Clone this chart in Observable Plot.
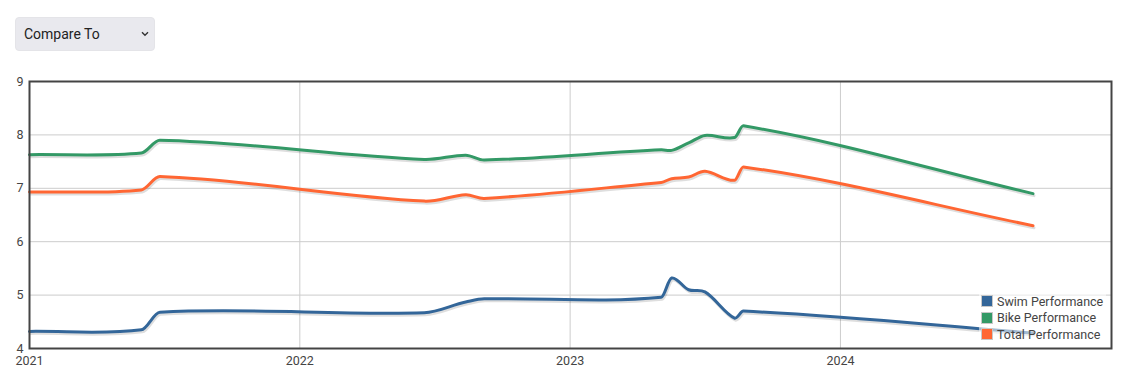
<!DOCTYPE html>
<html>
<head>
<meta charset="utf-8">
<script src="https://cdn.jsdelivr.net/npm/d3@7"></script>
<script src="https://cdn.jsdelivr.net/npm/@observablehq/plot@0.6"></script>
<style>
  body { margin: 0; background: #fff; font-family: Roboto, "Noto Sans", sans-serif; }
  #wrap { position: relative; width: 1130px; height: 377px; overflow: hidden; }
  #ctl { position: relative; height: 62px; }
  #cmp {
    position: absolute; left: 15px; top: 17px; width: 140px; height: 34px;
    -webkit-appearance: none; appearance: none; border: 1px solid #e4e4e8; border-radius: 4px;
    background: #e9e9ee; color: #222; font-family: Roboto, sans-serif; font-size: 14px;
    padding: 0 0 0 8px; margin: 0; box-sizing: border-box; outline: none;
  }
  #chev { position: absolute; left: 141px; top: 31px; pointer-events: none; }
  #legend {
    position: absolute; left: 979px; top: 292px; padding: 1px 3px 1px 2px;
    background: rgba(255,255,255,0.55); font-family: Roboto, sans-serif; font-size: 12.5px; color: #444;
  }
  .row { display: flex; align-items: center; height: 16.5px; white-space: nowrap; }
  .sw { width: 10px; height: 10px; border: 1px solid #c8c8c8; margin-right: 4px; box-sizing: content-box; }
</style>
</head>
<body>
<div id="wrap">
  <div id="ctl">
    <select id="cmp"><option>Compare To</option></select>
    <svg id="chev" width="8" height="6" viewBox="0 0 8 6"><path d="M1 1.2 L4 4.2 L7 1.2" fill="none" stroke="#333" stroke-width="1.4"/></svg>
  </div>
  <div id="chart"></div>
  <div id="legend"></div>
</div>
<script>
// ---- data ----
const dates = ["2021-01-01","2021-06-01","2021-06-26","2022-06-18","2022-08-13","2022-09-07",
               "2023-05-04","2023-05-18","2023-06-10","2023-07-02","2023-08-11","2023-08-23","2024-09-17"];
const swim  = [4.32, 4.35, 4.68, 4.67, 4.87, 4.93, 4.96, 5.32, 5.10, 5.06, 4.57, 4.70, 4.29];
const bike  = [7.63, 7.66, 7.90, 7.54, 7.62, 7.53, 7.72, 7.71, 7.85, 7.99, 7.95, 8.17, 6.90];
const total = [6.93, 6.97, 7.22, 6.76, 6.88, 6.81, 7.11, 7.18, 7.21, 7.32, 7.15, 7.40, 6.30];
const seriesNames = ["Swim Performance", "Bike Performance", "Total Performance"];
const seriesColors = ["#336699", "#339966", "#ff6633"];
const yTicks = [4, 5, 6, 7, 8, 9];
const xTickLabels = ["2021", "2022", "2023", "2024"];
const xDomain = ["2021-01-01", "2025-01-01"];

// ---- build table ----
const seriesValues = [swim, bike, total];
const rows = [];
seriesNames.forEach((name, i) => {
  dates.forEach((d, j) => rows.push({series: name, date: new Date(d), value: seriesValues[i][j]}));
});
const xTicks = xTickLabels.map(y => new Date(y + "-01-01"));

// x-monotone "function" smoothing curve (non-uniform cardinal spline)
function fnCurve(tension) {
  return function(context) {
    let xs, ys;
    return {
      areaStart() {}, areaEnd() {},
      lineStart() { xs = []; ys = []; },
      point(x, y) { xs.push(+x); ys.push(+y); },
      lineEnd() {
        const n = xs.length;
        if (!n) return;
        context.moveTo(xs[0], ys[0]);
        if (n === 1) return;
        const m = new Array(n);
        const sec = i => (ys[i + 1] - ys[i]) / (xs[i + 1] - xs[i]);
        m[0] = sec(0);
        m[n - 1] = sec(n - 2);
        for (let i = 1; i < n - 1; i++) m[i] = (1 - tension) * (ys[i + 1] - ys[i - 1]) / (xs[i + 1] - xs[i - 1]);
        for (let i = 0; i < n - 1; i++) {
          const h = xs[i + 1] - xs[i];
          context.bezierCurveTo(xs[i] + h / 3, ys[i] + m[i] * h / 3,
                                xs[i + 1] - h / 3, ys[i + 1] - m[i + 1] * h / 3,
                                xs[i + 1], ys[i + 1]);
        }
      }
    };
  };
}
const curve = fnCurve(0.12);

const chart = Plot.plot({
  width: 1130,
  height: 315,
  marginTop: 19,
  marginBottom: 29,
  marginLeft: 29,
  marginRight: 19,
  style: {fontFamily: "Roboto, sans-serif", fontSize: "12.5px", color: "#444", background: "transparent"},
  x: {type: "utc", domain: xDomain.map(d => new Date(d))},
  y: {domain: [yTicks[0], yTicks[yTicks.length - 1]]},
  color: {domain: seriesNames, range: seriesColors},
  marks: [
    Plot.gridY(yTicks.slice(1, -1), {stroke: "#cccccc", strokeOpacity: 1}),
    Plot.gridX(xTicks.slice(1), {stroke: "#cccccc", strokeOpacity: 1}),
    Plot.lineY(rows, {x: "date", y: "value", z: "series", stroke: "#000", strokeOpacity: 0.13,
      strokeWidth: 3, curve, dy: 2, dx: 1}),
    Plot.lineY(rows, {x: "date", y: "value", stroke: "series", strokeWidth: 3, curve}),
    Plot.axisY(yTicks, {tickSize: 0, tickPadding: 6, fill: "#444", label: null, tickFormat: d => String(d)}),
    Plot.axisX(xTicks, {tickSize: 0, tickPadding: 8, fill: "#444", label: null, tickFormat: d => String(d.getUTCFullYear())}),
    Plot.frame({stroke: "#444", strokeWidth: 2})
  ]
});
document.getElementById("chart").appendChild(chart);

// ---- legend ----
const leg = document.getElementById("legend");
seriesNames.forEach((name, i) => {
  const r = document.createElement("div");
  r.className = "row";
  const s = document.createElement("span");
  s.className = "sw";
  s.style.background = seriesColors[i];
  const t = document.createElement("span");
  t.textContent = name;
  r.appendChild(s); r.appendChild(t);
  leg.appendChild(r);
});
</script>
</body>
</html>
